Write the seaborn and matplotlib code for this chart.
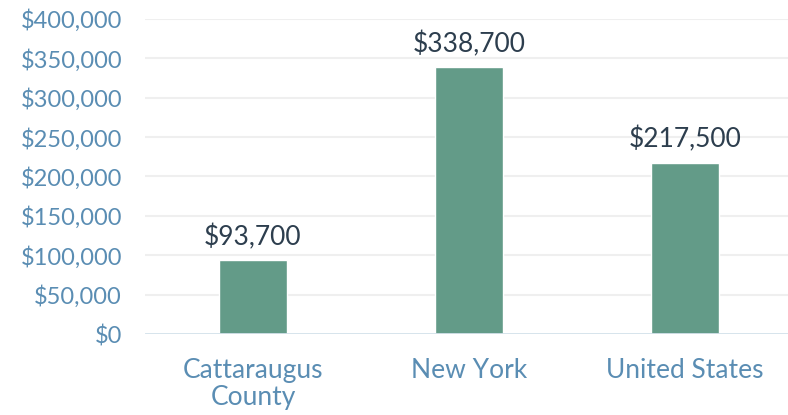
import matplotlib
matplotlib.use("Agg")
import matplotlib.pyplot as plt
import seaborn as sns
import pandas as pd

# Median home value by area
areas = ["Cattaraugus\nCounty", "New York", "United States"]
values = [93700, 338700, 217500]
yticks = [0, 50000, 100000, 150000, 200000, 250000, 300000, 350000, 400000]

sns.set_theme(style="white")
plt.rcParams["font.family"] = ["Lato", "DejaVu Sans"]

df = pd.DataFrame({"area": areas, "value": values})

fig = plt.figure(figsize=(7.88, 4.15), dpi=100)
ax = fig.add_axes([145 / 788, 1 - 334 / 415, (788 - 145) / 788, (334 - 19) / 415])

sns.barplot(data=df, x="area", y="value", color="#639b88", width=0.315,
            saturation=1, ax=ax)

ax.set_xlim(-0.5, 2.477)
ax.set_ylim(0, 400000)
ax.set_yticks(yticks)
ax.set_yticklabels([f"${v:,.0f}" for v in yticks])
ax.set_xlabel("")
ax.set_ylabel("")

for y in yticks[1:]:
    ax.axhline(y, color="#efefef", lw=1.5, zorder=0)
ax.axhline(0, color="#d3e1ea", lw=2, zorder=3)

for s in ax.spines.values():
    s.set_visible(False)

ax.tick_params(axis="y", length=0, pad=16.5, labelsize=17, labelcolor="#5a8db3")
ax.tick_params(axis="x", length=0, pad=17.5, labelsize=19, labelcolor="#5a8db3")
for lab in ax.get_xticklabels():
    lab.set_linespacing(1.1)

for i, v in enumerate(values):
    ax.annotate(f"${v:,.0f}", (i, v), xytext=(0, 11), textcoords="offset points",
                ha="center", va="baseline", fontsize=19, color="#2d3e4e")

fig.savefig("out.png", dpi=100)
